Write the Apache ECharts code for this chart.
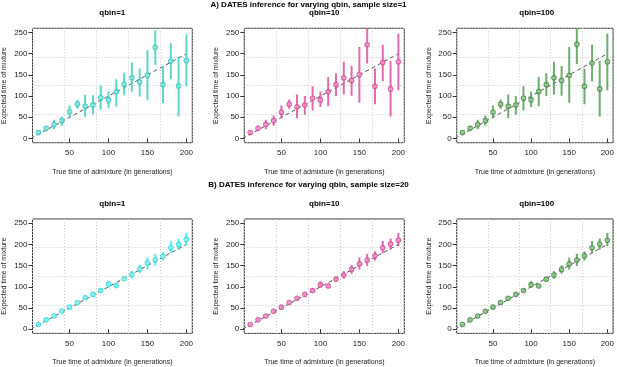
<!DOCTYPE html>
<html>
<head>
<meta charset="utf-8">
<script src="https://cdn.jsdelivr.net/npm/echarts@6/dist/echarts.min.js"></script>
<style>
  html, body { margin: 0; padding: 0; background: #fff; }
  #chart { width: 617px; height: 367px; }
</style>
</head>
<body>
<div id="chart"></div>
<script>
// true admixture times (generations)
const xTimes = [10, 20, 30, 40, 50, 60, 70, 80, 90, 100, 110, 120, 130, 140, 150, 160, 170, 180, 190, 200]
const xTicks = [50, 100, 150, 200]
const yTicks = [0, 50, 100, 150, 200, 250]
const refLine = [[0, 0], [200, 200]]

// A) sample size = 1
const s1q1Mean = [14, 24, 33, 42, 63, 81, 76, 79, 96, 91, 110, 128, 143, 133, 149, 215, 127, 183, 124, 184]
const s1q1Lo = [10, 17, 22, 30, 48, 70, 50, 56, 68, 72, 75, 102, 110, 99, 90, 173, 83, 140, 52, 123]
const s1q1Hi = [18, 30, 44, 52, 78, 91, 103, 102, 125, 111, 140, 155, 179, 165, 209, 255, 169, 225, 193, 246]

const s1q10Mean = [14, 24, 33, 42, 62, 81, 75, 79, 95, 91, 110, 127, 143, 137, 151, 221, 123, 179, 117, 181]
const s1q10Lo = [10, 17, 22, 30, 48, 70, 48, 56, 66, 74, 76, 100, 104, 101, 84, 177, 81, 135, 52, 114]
const s1q10Hi = [18, 30, 44, 54, 78, 92, 104, 100, 123, 111, 145, 154, 181, 171, 216, 268, 165, 221, 183, 247]

const s1q100Mean = [14, 24, 33, 42, 62, 81, 76, 79, 95, 91, 111, 127, 143, 137, 149, 222, 123, 178, 117, 181]
const s1q100Lo = [10, 17, 22, 30, 48, 70, 48, 56, 66, 74, 76, 100, 104, 101, 84, 176, 81, 135, 52, 114]
const s1q100Hi = [18, 30, 44, 54, 78, 92, 104, 100, 123, 111, 145, 154, 181, 171, 216, 268, 165, 221, 183, 247]

// B) sample size = 20
const s20q1Mean = [11, 22, 31, 43, 52, 63, 74, 82, 91, 106, 103, 119, 129, 142, 156, 164, 172, 192, 200, 212]
const s20q1Lo = [9, 19, 28, 39, 49, 60, 70, 78, 87, 98, 98, 114, 120, 132, 141, 150, 162, 179, 187, 197]
const s20q1Hi = [13, 25, 34, 47, 55, 66, 78, 86, 95, 114, 108, 124, 138, 152, 170, 178, 183, 208, 213, 228]

const s20q10Mean = [11, 22, 31, 42, 52, 63, 73, 82, 91, 105, 102, 118, 128, 141, 154, 163, 173, 192, 201, 210]
const s20q10Lo = [9, 19, 28, 39, 49, 60, 69, 78, 87, 98, 97, 113, 119, 131, 140, 149, 162, 179, 188, 196]
const s20q10Hi = [13, 25, 34, 46, 55, 66, 77, 86, 95, 113, 107, 123, 137, 151, 169, 178, 184, 208, 214, 227]

const s20q100Mean = [11, 22, 31, 42, 52, 63, 73, 82, 91, 105, 102, 118, 128, 141, 154, 163, 173, 192, 201, 210]
const s20q100Lo = [9, 19, 28, 39, 49, 60, 69, 78, 87, 98, 97, 113, 119, 131, 140, 149, 162, 179, 188, 196]
const s20q100Hi = [13, 25, 34, 46, 55, 66, 77, 86, 95, 113, 107, 123, 137, 151, 169, 178, 184, 208, 214, 227]

const FONT = "'Liberation Sans', Arial, Helvetica, sans-serif"

const panels = [
  { row: 0, col: 0, title: 'qbin=1', mean: s1q1Mean, lo: s1q1Lo, hi: s1q1Hi, bar: 'rgba(64,208,200,0.85)', edge: '#2fc3bb', fill: 'rgba(150,235,228,0.9)' },
  { row: 0, col: 1, title: 'qbin=10', mean: s1q10Mean, lo: s1q10Lo, hi: s1q10Hi, bar: 'rgba(222,80,160,0.85)', edge: '#d4449a', fill: 'rgba(240,160,205,0.9)' },
  { row: 0, col: 2, title: 'qbin=100', mean: s1q100Mean, lo: s1q100Lo, hi: s1q100Hi, bar: 'rgba(84,160,84,0.85)', edge: '#3f8a3f', fill: 'rgba(160,205,160,0.9)' },
  { row: 1, col: 0, title: 'qbin=1', mean: s20q1Mean, lo: s20q1Lo, hi: s20q1Hi, bar: 'rgba(60,232,232,0.85)', edge: '#2cd8d8', fill: 'rgba(160,245,245,0.9)' },
  { row: 1, col: 1, title: 'qbin=10', mean: s20q10Mean, lo: s20q10Lo, hi: s20q10Hi, bar: 'rgba(222,80,160,0.85)', edge: '#d4449a', fill: 'rgba(240,160,205,0.9)' },
  { row: 1, col: 2, title: 'qbin=100', mean: s20q100Mean, lo: s20q100Lo, hi: s20q100Hi, bar: 'rgba(84,160,84,0.85)', edge: '#3f8a3f', fill: 'rgba(160,205,160,0.9)' }
]

const colLeft = [32.3, 244.3, 456.7]
const rowTop = [28.3, 219]
const plotW = 160
const plotH = 114.4

const grid = []
const xAxis = []
const yAxis = []
const series = []
const graphic = []

const mainTitles = [
  { text: 'A) DATES inference for varying qbin, sample size=1', y: 4.5 },
  { text: 'B) DATES inference for varying qbin, sample size=20', y: 185 }
]
mainTitles.forEach((t) => {
  graphic.push({
    type: 'text', x: 308.5, y: t.y,
    style: { text: t.text, align: 'center', verticalAlign: 'middle', font: 'bold 8px ' + FONT, fill: '#000' }
  })
})

panels.forEach((p, i) => {
  const left = colLeft[p.col]
  const top = rowTop[p.row]
  grid.push({
    left: left, top: top, width: plotW, height: plotH,
    show: true, borderColor: '#333', borderWidth: 1, backgroundColor: 'transparent'
  })
  graphic.push({
    type: 'text', x: left + plotW / 2, y: top - 15.5,
    style: { text: p.title, align: 'center', verticalAlign: 'middle', font: 'bold 8px ' + FONT, fill: '#000' }
  })

  // data axes
  xAxis.push({
    gridIndex: i, type: 'value', min: 2.4, max: 207.6,
    name: 'True time of admixture (in generations)',
    nameLocation: 'middle', nameGap: 25.5,
    nameTextStyle: { fontFamily: FONT, fontSize: 7, color: '#222' },
    axisLine: { show: false },
    axisTick: { show: true, customValues: xTicks, length: 4, lineStyle: { color: '#333' } },
    axisLabel: { customValues: xTicks, fontFamily: FONT, fontSize: 8, color: '#222', margin: 6 },
    splitLine: { show: false }
  })
  // helper axis for R-style evenly spaced grid lines
  xAxis.push({
    gridIndex: i, type: 'value', min: 0, max: 5, interval: 1, position: 'top',
    axisLine: { show: false }, axisTick: { show: false }, axisLabel: { show: false },
    splitLine: { show: true, lineStyle: { color: '#c8c8c8', type: [1, 2], width: 1 } }
  })
  yAxis.push({
    gridIndex: i, type: 'value', min: -10, max: 260,
    name: 'Expected time of mixture',
    nameLocation: 'middle', nameGap: 24.5, nameRotate: 90,
    nameTextStyle: { fontFamily: FONT, fontSize: 7, color: '#222' },
    axisLine: { show: false },
    axisTick: { show: true, customValues: yTicks, length: 4, lineStyle: { color: '#333' } },
    axisLabel: { customValues: yTicks, fontFamily: FONT, fontSize: 8, color: '#222', margin: 5 },
    splitLine: { show: false }
  })
  yAxis.push({
    gridIndex: i, type: 'value', min: 0, max: 4, interval: 1, position: 'right',
    axisLine: { show: false }, axisTick: { show: false }, axisLabel: { show: false },
    splitLine: { show: true, lineStyle: { color: '#c8c8c8', type: [1, 2], width: 1 } }
  })

  const xi = i * 2
  const yi = i * 2

  series.push({
    type: 'line', xAxisIndex: xi, yAxisIndex: yi,
    data: refLine, symbol: 'none', silent: true, z: 3,
    lineStyle: { color: '#555', width: 1, type: [4, 3] }
  })
  series.push({
    type: 'custom', xAxisIndex: xi, yAxisIndex: yi, clip: true, z: 4,
    data: xTimes.map((x, k) => [x, p.lo[k], p.hi[k]]),
    renderItem: (params, api) => {
      const a = api.coord([api.value(0), api.value(1)])
      const b = api.coord([api.value(0), api.value(2)])
      return {
        type: 'line',
        shape: { x1: a[0], y1: a[1], x2: b[0], y2: b[1] },
        style: { stroke: p.bar, lineWidth: 2 }
      }
    }
  })
  series.push({
    type: 'scatter', xAxisIndex: xi, yAxisIndex: yi, z: 5,
    data: xTimes.map((x, k) => [x, p.mean[k]]),
    symbol: 'circle', symbolSize: 4.5,
    itemStyle: { color: p.fill, borderColor: p.edge, borderWidth: 1.1 }
  })
})

const chart = echarts.init(document.getElementById('chart'))
chart.setOption({
  animation: false,
  backgroundColor: '#fff',
  textStyle: { fontFamily: FONT },
  grid, xAxis, yAxis, series, graphic
})
</script>
</body>
</html>
